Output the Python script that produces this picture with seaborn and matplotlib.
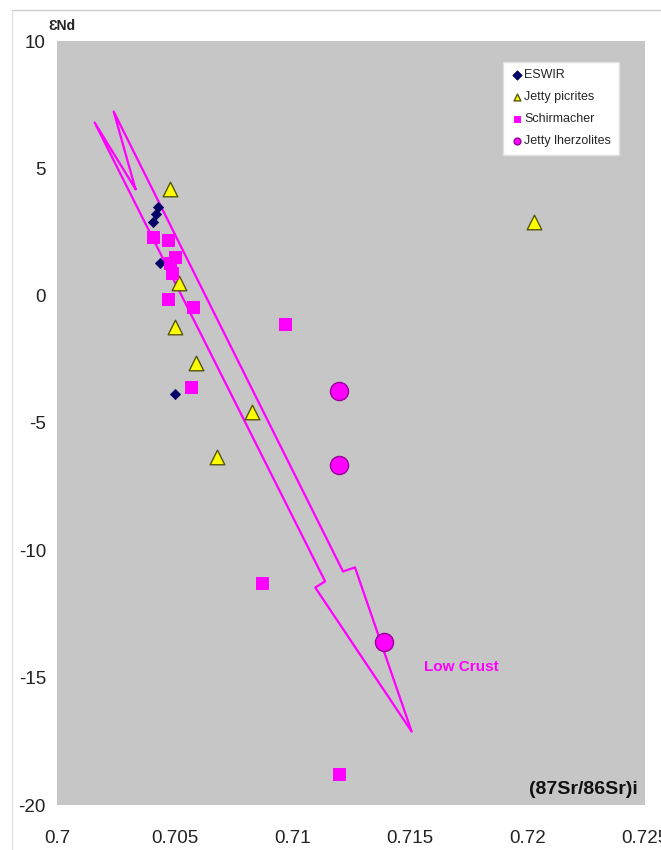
import numpy as np
import pandas as pd
import matplotlib
matplotlib.use("Agg")
import matplotlib.pyplot as plt
import seaborn as sns

# data
eswir_x = [0.7043, 0.7042, 0.7041, 0.7044, 0.7050]
eswir_y = [3.5, 3.2, 2.9, 1.3, -3.85]

picrite_x = [0.7048, 0.7052, 0.7050, 0.7059, 0.7083, 0.7068, 0.7203]
picrite_y = [4.2, 0.5, -1.25, -2.65, -4.55, -6.35, 2.9]

schir_x = [0.7041, 0.7047, 0.7050, 0.7048, 0.7049, 0.7047, 0.7058, 0.7097, 0.7057, 0.7087, 0.7120]
schir_y = [2.3, 2.2, 1.5, 1.3, 0.9, -0.15, -0.45, -1.1, -3.6, -11.3, -18.8]

lherz_x = [0.7120, 0.7120, 0.7139]
lherz_y = [-3.75, -6.65, -13.6]

# hollow notched arrow ("Low Crust" trend)
arrow_x = [0.70334, 0.70160, 0.71140, 0.71098, 0.71508, 0.71267, 0.71216, 0.70241, 0.70334]
arrow_y = [4.18, 6.8, -11.22, -11.46, -17.12, -10.67, -10.83, 7.23, 4.18]

x_ticks = [0.7, 0.705, 0.71, 0.715, 0.72, 0.725]
x_labels = ["0.7", "0.705", "0.71", "0.715", "0.72", "0.725"]
y_ticks = [10, 5, 0, -5, -10, -15, -20]

sns.set_style("white")
plt.rcParams["font.family"] = ["Liberation Sans", "DejaVu Sans"]
plt.rcParams["axes.unicode_minus"] = False

fig = plt.figure(figsize=(6.61, 8.5), dpi=100)
ax = fig.add_axes([57 / 661, 1 - 805 / 850, 588 / 661, 764 / 850])
ax.set_facecolor("#c6c6c6")

ax.plot(arrow_x, arrow_y, color="#ff00ff", lw=1.6, zorder=2)

sns.scatterplot(x=eswir_x, y=eswir_y, marker="D", s=28, color="#000066",
                edgecolor="#000066", label="ESWIR", ax=ax, zorder=3)
sns.scatterplot(x=picrite_x, y=picrite_y, marker="^", s=110, color="#ffff00",
                edgecolor="#55550a", linewidth=1.0, label="Jetty picrites", ax=ax, zorder=3)
sns.scatterplot(x=schir_x, y=schir_y, marker="s", s=75, color="#ff00ff",
                edgecolor="#ff00ff", label="Schirmacher", ax=ax, zorder=3)
sns.scatterplot(x=lherz_x, y=lherz_y, marker="o", s=170, color="#ff00ff",
                edgecolor="#990099", linewidth=1.0, label="Jetty lherzolites", ax=ax, zorder=4)

ax.set_xlim(0.7, 0.725)
ax.set_ylim(-20, 10)
ax.set_xticks(x_ticks)
ax.set_xticklabels(x_labels)
ax.set_yticks(y_ticks)
ax.tick_params(axis="both", length=0, labelsize=13.5, colors="#222222")
ax.tick_params(axis="x", pad=18)
ax.tick_params(axis="y", pad=8)
ax.set_xlabel("")
ax.set_ylabel("")
for sp in ax.spines.values():
    sp.set_visible(False)

ax.text(0.7156, -14.6, "Low Crust", color="#ff00ff", fontsize=11, fontweight="bold",
        ha="left", va="center")
ax.text(0.988, 0.02, "(87Sr/86Sr)i", transform=ax.transAxes, fontsize=14,
        fontweight="bold", color="#111111", ha="right", va="center")
fig.text(48 / 661, 1 - 26 / 850, "ƐNd", fontsize=10, fontweight="bold",
         color="#222222", ha="left", va="center")

# thin outer chart border (top and left)
fig.add_artist(plt.Line2D([12 / 661, 1], [1 - 10 / 850, 1 - 10 / 850],
                          transform=fig.transFigure, color="#cccccc", lw=1))
fig.add_artist(plt.Line2D([12 / 661, 12 / 661], [0, 1 - 10 / 850],
                          transform=fig.transFigure, color="#e4e4e4", lw=1))

leg = ax.legend(loc="upper right", bbox_to_anchor=(0.955, 0.973), frameon=True,
                fancybox=False, fontsize=9, handletextpad=0.1, handlelength=1.0,
                borderpad=0.6, labelspacing=0.8, borderaxespad=0)
leg.get_frame().set_facecolor("white")
leg.get_frame().set_edgecolor("#e0e0e0")
leg.get_frame().set_alpha(1)
for h in leg.legend_handles:
    h.set_sizes([24])

fig.savefig("out.png", dpi=100, facecolor="white")
